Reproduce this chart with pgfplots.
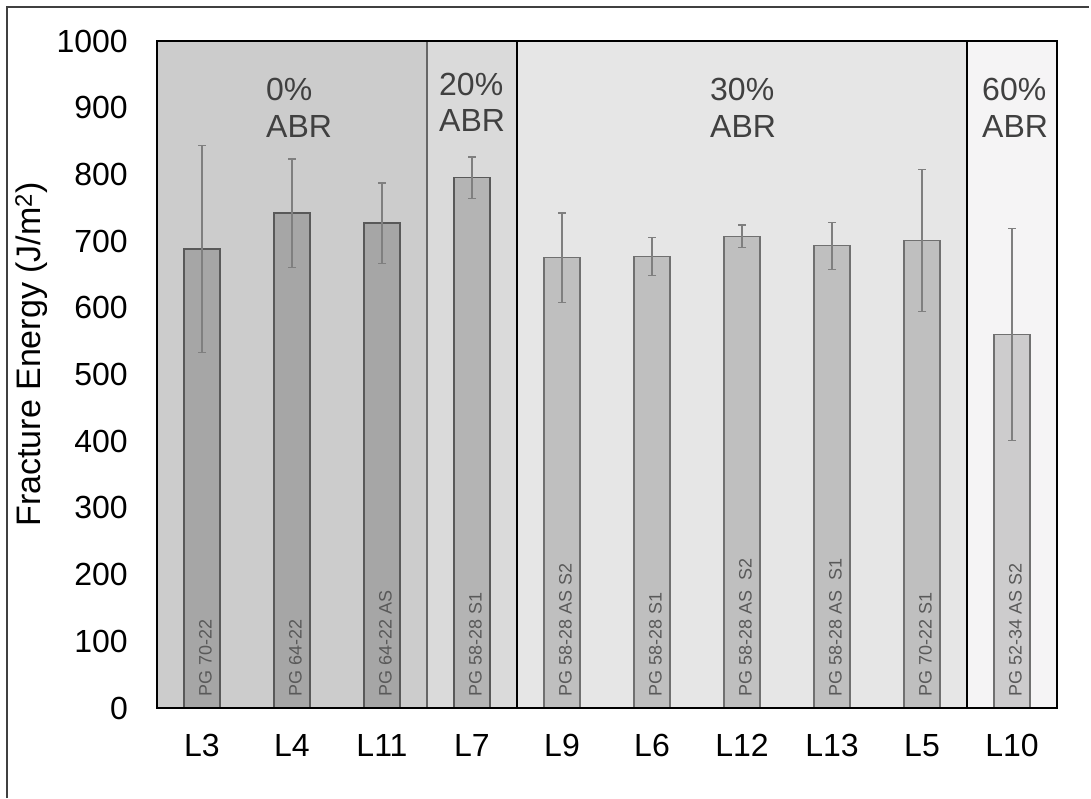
\documentclass[border=0pt]{standalone}
\usepackage{pgfplots}
\pgfplotsset{compat=1.18}
\usepackage{fontspec}
\setmainfont{Liberation Sans}
\definecolor{bgA}{HTML}{CCCCCC}
\definecolor{bgB}{HTML}{DADADA}
\definecolor{bgC}{HTML}{E6E6E6}
\definecolor{bgD}{HTML}{F5F4F5}
\definecolor{barA}{HTML}{A6A6A6}
\definecolor{barB}{HTML}{B4B4B4}
\definecolor{barC}{HTML}{BFBFBF}
\definecolor{barD}{HTML}{CDCCCD}
\definecolor{edgeA}{HTML}{595959}
\definecolor{edgeC}{HTML}{707070}
\definecolor{errc}{HTML}{7F7F7F}
\definecolor{lab}{HTML}{404040}
\definecolor{inl}{HTML}{595959}
\begin{document}
\begin{tikzpicture}[x=1pt,y=1pt]
\useasboundingbox (0,0) rectangle (1091,798);
\draw[color=black!75, line width=1.2pt] (7,0) -- (7,791) -- (1089,791);
\begin{axis}[
  at={(157pt,90pt)}, anchor=south west,
  scale only axis, width=900pt, height=667pt,
  xmin=-0.5, xmax=9.5, ymin=0, ymax=1000,
  xtick={0,...,9}, xticklabels={L3,L4,L11,L7,L9,L6,L12,L13,L5,L10},
  ytick={0,100,...,1000},
  major tick length=0pt,
  axis line style={line width=1.5pt, black},
  tick label style={font=\fontsize{32}{37}\selectfont, inner sep=0pt},
  /pgf/number format/assume math mode=true,
  /pgf/number format/1000 sep={},
  yticklabel style={xshift=-29pt},
  xticklabel style={anchor=north, yshift=-26pt},
  ylabel={Fracture Energy (J/m\textsuperscript{2})},
  ylabel style={font=\fontsize{34}{39}\selectfont, at={(axis description cs:-0.1578,0.53)}, anchor=north, inner sep=0pt},
  ybar, bar width=36pt, bar shift=0pt,
  axis on top,
  clip=false,
  error bars/error bar style={errc, line width=1.2pt},
  error bars/error mark=-,
  error bars/error mark options={rotate=90, errc, line width=1.2pt, mark size=4pt},
]
\fill[bgA] (axis cs:-0.5,0) rectangle (axis cs:2.5,1000);
\fill[bgB] (axis cs:2.5,0) rectangle (axis cs:3.5,1000);
\fill[bgC] (axis cs:3.5,0) rectangle (axis cs:8.5,1000);
\fill[bgD] (axis cs:8.5,0) rectangle (axis cs:9.5,1000);
\draw[black!60, line width=1.2pt] (axis cs:2.5,0) -- (axis cs:2.5,1000);
\draw[black, line width=1.5pt] (axis cs:3.5,0) -- (axis cs:3.5,1000);
\draw[black, line width=1.5pt] (axis cs:8.5,0) -- (axis cs:8.5,1000);

\addplot[fill=barA, draw=edgeA, line width=1.2pt, error bars/.cd, y dir=both, y explicit]
  coordinates {(0,688) +- (0,155) (1,742) +- (0,81) (2,727) +- (0,60)};
\addplot[fill=barB, draw=edgeA, line width=1.2pt, error bars/.cd, y dir=both, y explicit]
  coordinates {(3,795) +- (0,31)};
\addplot[fill=barC, draw=edgeC, line width=1.2pt, error bars/.cd, y dir=both, y explicit]
  coordinates {(4,675) +- (0,67) (5,677) +- (0,28) (6,707) +- (0,17) (7,693) +- (0,35) (8,701) +- (0,106)};
\addplot[fill=barD, draw=edgeC, line width=1.2pt, error bars/.cd, y dir=both, y explicit]
  coordinates {(9,560) +- (0,159)};

\begin{scope}[every node/.style={rotate=90, anchor=west, font=\fontsize{18}{20}\selectfont, text=inl, inner sep=0pt}]
\node at (axis cs:0.039,16.5) {PG 70-22};
\node at (axis cs:1.039,16.5) {PG 64-22};
\node at (axis cs:2.039,16.5) {PG 64-22 AS};
\node at (axis cs:3.039,16.5) {PG 58-28 S1};
\node at (axis cs:4.039,16.5) {PG 58-28 AS S2};
\node at (axis cs:5.039,16.5) {PG 58-28 S1};
\node at (axis cs:6.039,16.5) {PG 58-28 AS\ \ S2};
\node at (axis cs:7.039,16.5) {PG 58-28 AS\ \ S1};
\node at (axis cs:8.039,16.5) {PG 70-22 S1};
\node at (axis cs:9.039,16.5) {PG 52-34 AS S2};
\end{scope}

\begin{scope}[every node/.style={anchor=base west, font=\fontsize{32}{38}\selectfont, text=lab, inner sep=0pt}]
\node at (axis cs:0.711,911.5) {0\%};
\node at (axis cs:0.711,856) {ABR};
\node at (axis cs:2.633,919) {20\%};
\node at (axis cs:2.633,863.6) {ABR};
\node at (axis cs:5.644,911.5) {30\%};
\node at (axis cs:5.644,856) {ABR};
\node at (axis cs:8.667,911.5) {60\%};
\node at (axis cs:8.667,856) {ABR};
\end{scope}
\end{axis}
\end{tikzpicture}
\end{document}
